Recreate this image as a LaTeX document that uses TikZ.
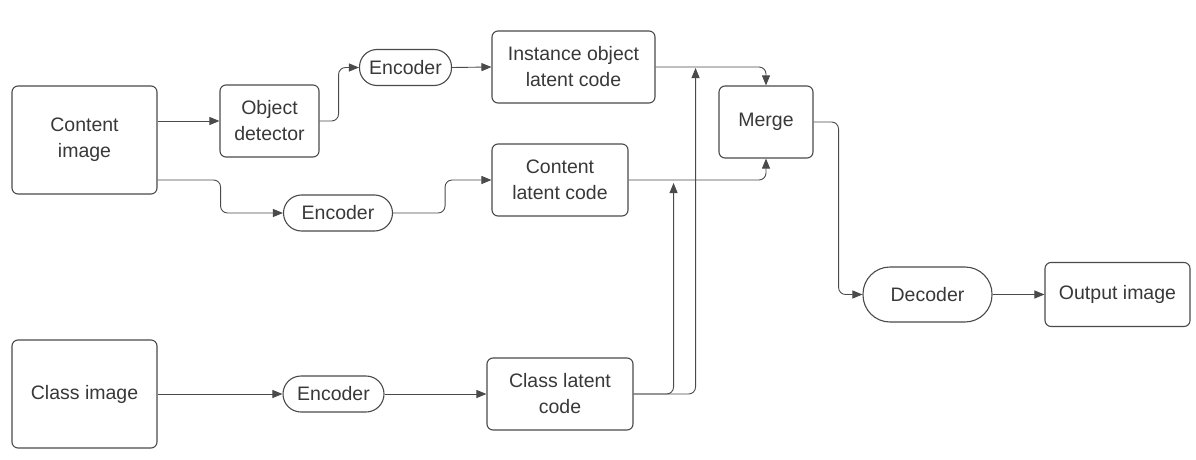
\documentclass[tikz,border=0pt]{standalone}
\usepackage{fontspec}
\setmainfont{Liberation Sans}
\usetikzlibrary{arrows.meta,calc}
\definecolor{ln}{HTML}{4A4A4A}
\definecolor{tx}{HTML}{383838}
\tikzset{
  box/.style={draw=ln, line width=1.1pt, rounded corners=6pt, inner sep=0pt, align=center,
    text=tx, font=\fontsize{19.5}{26}\selectfont},
  pill/.style={box, rounded corners=#1},
  conn/.style={draw=ln, line width=0.9pt, rounded corners=7pt, -{Triangle[length=10pt,width=8pt]}},
}
\begin{document}
\begin{tikzpicture}[x=1pt,y=-1pt]
\useasboundingbox (0,0) rectangle (1196,460);
\node[box, minimum width=145pt, minimum height=108pt] (ci) at (84.5,140) {Content\\image};
\node[box, minimum width=99pt, minimum height=72pt] (od) at (269.5,121) {Object\\detector};
\node[pill=17.5pt, minimum width=92pt, minimum height=36pt] (e1) at (405.5,67.5) {Encoder};
\node[box, minimum width=163pt, minimum height=72pt] (il) at (573.5,67) {Instance object\\latent code};
\node[box, minimum width=94pt, minimum height=72pt] (mg) at (766,122) {Merge};
\node[pill=18pt, minimum width=109pt, minimum height=36pt] (e2) at (338,213) {Encoder};
\node[box, minimum width=136pt, minimum height=72pt] (cl) at (560,180) {Content\\latent code};
\node[box, minimum width=145pt, minimum height=108pt] (cim) at (84.5,394) {Class image};
\node[pill=18pt, minimum width=101pt, minimum height=36pt] (e3) at (333.5,394) {Encoder};
\node[box, minimum width=146pt, minimum height=72pt] (cll) at (560,394) {Class latent\\code};
\node[pill=27pt, minimum width=129pt, minimum height=55pt] (dec) at (927.5,294.5) {Decoder};
\node[box, minimum width=145pt, minimum height=64pt] (out) at (1117.5,294.5) {Output image};

\draw[conn] (ci.east |- od.west) -- (od.west);
\draw[conn] (od.east) -- ++(19,0) |- (e1.west);
\draw[conn] (e1.east) -- (il.west);
\draw[conn] ([yshift=-40pt]ci.east) -- ++(63,0) |- (e2.west);
\draw[conn] (e2.east) -- ++(52,0) |- (cl.west);
\draw[conn] (il.east) -| (mg.north);
\draw[conn] (cl.east) -| (mg.south);
\draw[conn] (cll.east) -| ([xshift=45pt,yshift=-3pt]cl.east);
\draw[conn] (cll.east) -| ([xshift=40pt,yshift=-1pt]il.east);
\draw[conn] (mg.east) -- ++(25,0) |- (dec.west);
\draw[conn] (dec.east) -- (out.west);
\draw[conn] (cim.east) -- (e3.west);
\draw[conn] (e3.east) -- (cll.west);
\end{tikzpicture}
\end{document}
